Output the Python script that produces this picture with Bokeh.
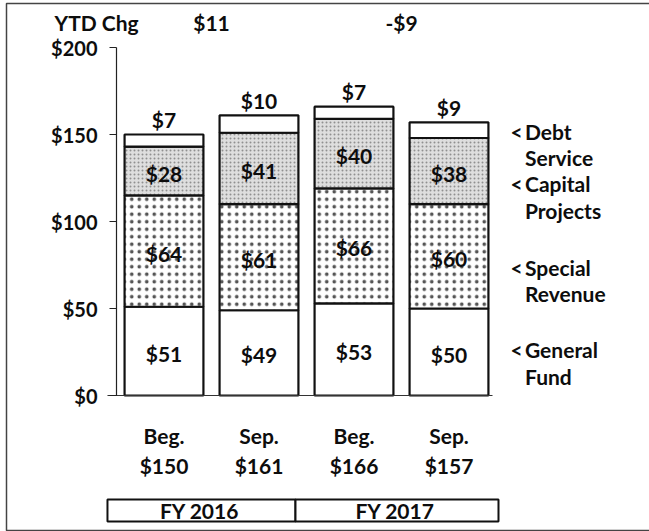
from bokeh.plotting import figure
from bokeh.models import Range1d, FixedTicker, NumeralTickFormatter
from bokeh.core.properties import value
from bokeh.embed import file_html
from bokeh.resources import INLINE

# ---------------- data ----------------
periods = ["Beg.", "Sep.", "Beg.", "Sep."]
general_fund = [51, 49, 53, 50]
special_revenue = [64, 61, 66, 60]
capital_projects = [28, 41, 40, 38]
debt_service = [7, 10, 7, 9]
ytd_change = [11, -9]
fiscal_years = ["FY 2016", "FY 2017"]
y_ticks = [0, 50, 100, 150, 200]
fund_labels = [("Debt", "Service"), ("Capital", "Projects"), ("Special", "Revenue"), ("General", "Fund")]

FONT = value("Lato")
TXT = "#0d0d0d"
FS = "21px"

xs = [i + 0.5 for i in range(len(periods))]
layers = [general_fund, special_revenue, capital_projects, debt_service]
bottoms, tops = [], []
run = [0] * len(periods)
for layer in layers:
    b = list(run)
    t = [r + v for r, v in zip(run, layer)]
    bottoms.append(b)
    tops.append(t)
    run = t
totals = run


def money(v):
    return ("-$%d" % -v) if v < 0 else ("$%d" % v)


W, H = 649, 531
PX_X, X0_PX = 95.0, 116.0      # pixels per category, pixel of x=0
PX_Y, Y0_PX = 1.74, 395.0      # pixels per $, pixel of y=0

p = figure(width=W, height=H,
           x_range=Range1d(-X0_PX / PX_X, (W - X0_PX) / PX_X),
           y_range=Range1d(-(H - Y0_PX) / PX_Y, Y0_PX / PX_Y),
           output_backend="svg", toolbar_location=None, x_axis_location=None,
           min_border_left=0, min_border_right=0, min_border_top=0, min_border_bottom=0)
p.grid.visible = False
p.outline_line_color = None
p.background_fill_color = "white"
p.border_fill_color = "white"

ax = p.yaxis[0]
ax.fixed_location = 0
ax.ticker = FixedTicker(ticks=y_ticks)
ax.formatter = NumeralTickFormatter(format="$0")
ax.bounds = (0, 200)
ax.axis_line_color = "#222222"
ax.axis_line_width = 1.2
ax.major_tick_line_color = "#222222"
ax.major_tick_out = 7
ax.major_tick_in = 0
ax.minor_tick_line_color = None
ax.major_label_standoff = 12
ax.major_label_text_font = "Lato"
ax.major_label_text_font_style = "bold"
ax.major_label_text_font_size = "20px"
ax.major_label_text_color = TXT

# outer frame of the picture
p.quad(left=[(6 - X0_PX) / PX_X], right=[(660 - X0_PX) / PX_X],
       top=[(Y0_PX - 3) / PX_Y], bottom=[(Y0_PX - 530) / PX_Y],
       fill_color=None, line_color="#444444", line_width=1.5)

styles = [
    dict(fill_color="white"),
    dict(fill_color="white", hatch_pattern=".", hatch_scale=7.5, hatch_weight=0.45, hatch_color="#555555"),
    dict(fill_color="#dedede", hatch_pattern=".", hatch_scale=4, hatch_weight=0.7, hatch_color="#909090"),
    dict(fill_color="white"),
]
for b, t, st in zip(bottoms, tops, styles):
    p.vbar(x=xs, width=0.83, bottom=b, top=t, line_color="#111111", line_width=2.2, **st)

# baseline at zero
p.segment(x0=[xs[0] - 0.595], y0=[0], x1=[xs[-1] + 0.458], y1=[0], line_color="#333333", line_width=1)

# segment value labels (first three layers inside)
for layer, b, t in zip(layers[:3], bottoms[:3], tops[:3]):
    mids = [(bb + tt) / 2 for bb, tt in zip(b, t)]
    p.text(x=xs, y=mids, text=[money(v) for v in layer], text_align="center", text_baseline="middle",
           y_offset=2, text_font=FONT, text_font_style="bold", text_font_size=FS, text_color=TXT)
# debt service labels above bars
p.text(x=xs, y=totals, text=[money(v) for v in debt_service], text_align="center", text_baseline="middle",
       y_offset=-15, text_font=FONT, text_font_style="bold", text_font_size=FS, text_color=TXT)

# category labels
p.text(x=xs, y=[-22.8] * 4, text=periods, text_align="center", text_baseline="middle",
       text_font=FONT, text_font_style="bold", text_font_size=FS, text_color=TXT)
p.text(x=xs, y=[-40.0] * 4, text=[money(v) for v in totals], text_align="center", text_baseline="middle",
       text_font=FONT, text_font_style="bold", text_font_size=FS, text_color=TXT)

# YTD change
chg_x = [(xs[0] + xs[1]) / 2, (xs[2] + xs[3]) / 2]
p.text(x=chg_x, y=[214.5] * 2, text=[money(v) for v in ytd_change], text_align="center", text_baseline="middle",
       text_font=FONT, text_font_style="bold", text_font_size=FS, text_color=TXT)
p.text(x=[-0.652], y=[214.5], text=["YTD Chg"], text_align="left", text_baseline="middle",
       text_font=FONT, text_font_style="bold", text_font_size=FS, text_color=TXT)

# right-side fund labels
label_y = [151.7, 121.8, 73.6, 26.4]
line_gap = 15.2
arrow_x = 4.147
word_x = 4.30
p.text(x=[arrow_x] * 4, y=label_y, text=["<"] * 4, text_align="left", text_baseline="middle",
       text_font=FONT, text_font_style="bold", text_font_size=FS, text_color=TXT)
p.text(x=[word_x] * 4, y=label_y, text=[a for a, _ in fund_labels], text_align="left", text_baseline="middle",
       text_font=FONT, text_font_style="bold", text_font_size=FS, text_color=TXT)
p.text(x=[word_x] * 4, y=[v - line_gap for v in label_y], text=[b for _, b in fund_labels], text_align="left",
       text_baseline="middle", text_font=FONT, text_font_style="bold", text_font_size=FS, text_color=TXT)

# fiscal year boxes
box_top, box_bot = -59.8, -72.4
edges = [-0.095, 1.884, 4.021]
p.quad(left=edges[:2], right=edges[1:], top=[box_top] * 2, bottom=[box_bot] * 2,
       fill_color="white", line_color="#111111", line_width=2)
p.text(x=[(edges[0] + edges[1]) / 2 - 0.02, (edges[1] + edges[2]) / 2 - 0.02], y=[(box_top + box_bot) / 2] * 2,
       text=fiscal_years, text_align="center", text_baseline="middle",
       text_font=FONT, text_font_style="bold", text_font_size=FS, text_color=TXT)

open("out.html", "w").write(file_html(p, INLINE))
